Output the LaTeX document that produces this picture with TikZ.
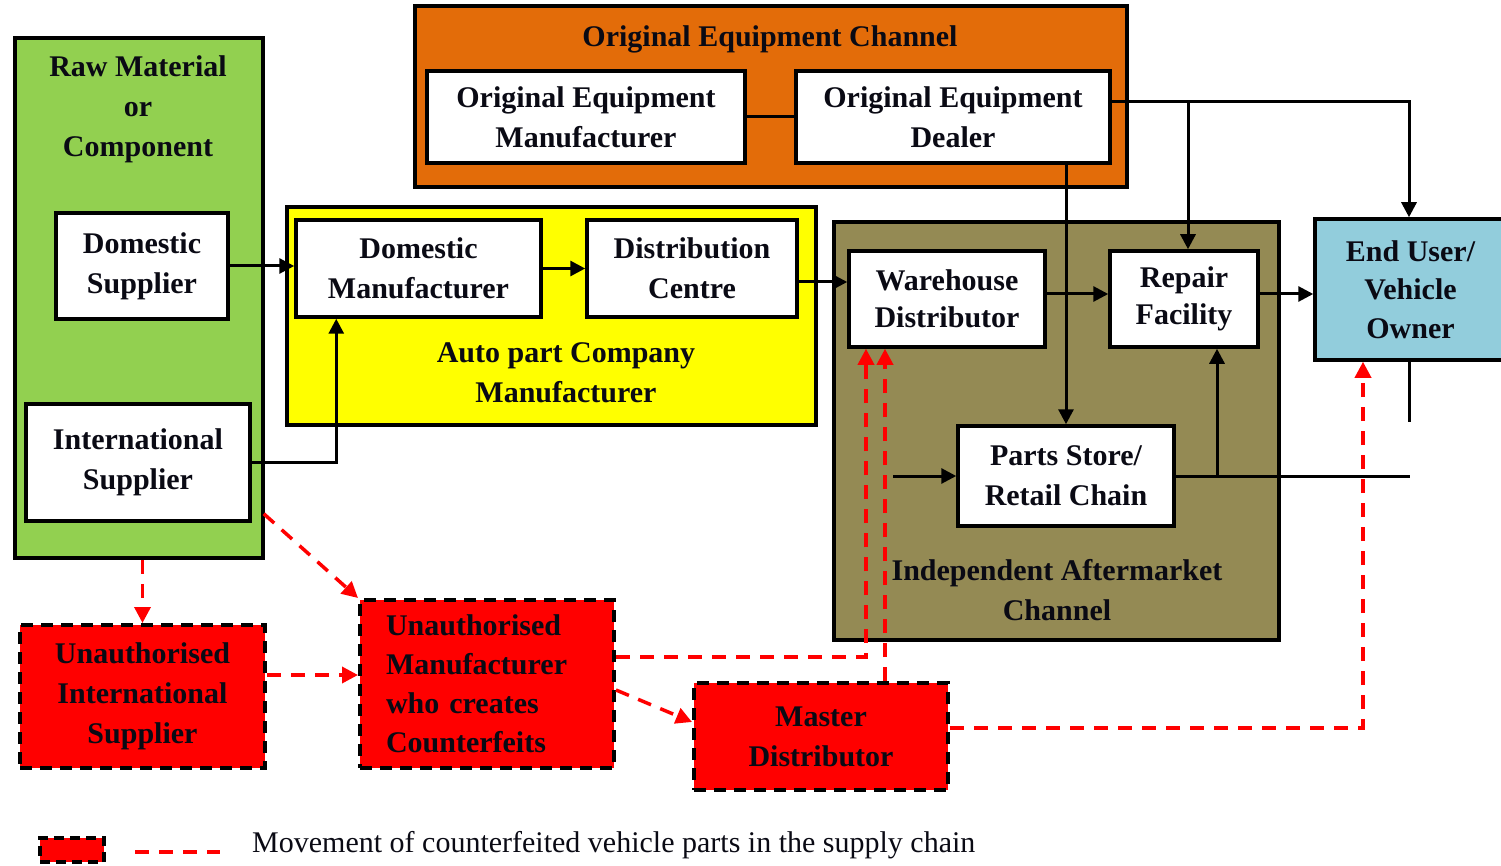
\documentclass[tikz,border=0pt]{standalone}
\usepackage{fontspec}
\setmainfont{Liberation Serif}
\usetikzlibrary{arrows.meta,calc}
\definecolor{cgreen}{RGB}{146,208,80}
\definecolor{corange}{RGB}{227,108,9}
\definecolor{cyellow}{RGB}{255,255,0}
\definecolor{colive}{RGB}{148,138,84}
\definecolor{cblue}{RGB}{146,205,220}
\definecolor{cred}{RGB}{255,0,0}
\definecolor{ctext}{RGB}{10,10,20}
\begin{document}
\begin{tikzpicture}[x=1pt,y=-1pt,
  bigfont/.style={font=\bfseries\fontsize{30}{40}\selectfont, text=ctext},
  contbox/.style={draw=black, line width=3.5pt, rectangle, inner sep=0pt},
  wbox/.style={draw=black, line width=3.5pt, fill=white, rectangle, align=center, bigfont, inner sep=2pt},
  rbox/.style={draw=black, line width=4pt, dash pattern=on 12pt off 8pt, fill=cred, rectangle, align=center, bigfont, inner sep=2pt},
  ttl/.style={align=center, bigfont, inner sep=0pt},
  blk/.style={draw=black, line width=3pt},
  arr/.style={blk, -{Triangle[length=15pt,width=15pt]}},
  rdash/.style={draw=cred, line width=3.5pt, dash pattern=on 14pt off 10pt},
  rdarr/.style={rdash, -{Triangle[length=16pt,width=16pt]}}
]
\useasboundingbox (0,0) rectangle (1501,866);

% Containers
\node[contbox, fill=cgreen, minimum width=248pt, minimum height=520pt] (raw) at (139,298) {};
\node[ttl] (rawt) at (138,109) {Raw Material\\or\\Component};
\node[contbox, fill=corange, minimum width=712pt, minimum height=181pt] (oec) at (771,96.5) {};
\node[ttl] (oect) at (770,39) {Original Equipment Channel};
\node[contbox, fill=cyellow, minimum width=529pt, minimum height=218pt] (apc) at (551.5,316) {};
\node[ttl] (apct) at (566,373) {Auto part Company\\Manufacturer};
\node[contbox, fill=colive, minimum width=445pt, minimum height=418pt] (iac) at (1056.5,431) {};
\node[ttl] (iact) at (1057,590) {Independent Aftermarket\\Channel};

% Boxes
\node[wbox, minimum width=172pt, minimum height=106pt] (ds) at (142,266) {Domestic\\Supplier};
\node[wbox, minimum width=224pt, minimum height=117pt] (is) at (138,462.5) {International\\Supplier};
\node[wbox, minimum width=318pt, minimum height=92pt] (oem) at (586,117) {Original Equipment\\Manufacturer};
\node[wbox, minimum width=314pt, minimum height=92pt] (oed) at (953,117) {Original Equipment\\Dealer};
\node[wbox, minimum width=245pt, minimum height=97pt] (dm) at (418.5,268.5) {Domestic\\Manufacturer};
\node[wbox, minimum width=210pt, minimum height=97pt] (dc) at (692,268.5) {Distribution\\Centre};
\node[wbox, minimum width=196pt, minimum height=96pt, font=\bfseries\fontsize{30}{37}\selectfont] (wd) at (947,299) {Warehouse\\Distributor};
\node[wbox, minimum width=148pt, minimum height=96pt, font=\bfseries\fontsize{30}{37}\selectfont] (rf) at (1184,299) {Repair\\Facility};
\node[wbox, minimum width=216pt, minimum height=100pt] (ps) at (1066,476) {Parts Store/\\Retail Chain};
\node[wbox, fill=cblue, minimum width=191pt, minimum height=141pt, font=\bfseries\fontsize{30}{38.5}\selectfont] (eu) at (1410.5,289.5) {End User/\\Vehicle\\Owner};

% Red boxes
\node[rbox, minimum width=245pt, minimum height=143pt] (uis) at (142.5,696.5) {Unauthorised\\International\\Supplier};
\node[rbox, minimum height=168pt, align=left, text width=202pt, inner xsep=26pt, font=\bfseries\fontsize{30}{39}\selectfont] (um) at (487,684) {Unauthorised\\Manufacturer\\who creates\\Counterfeits};
\node[rbox, minimum width=254pt, minimum height=107pt] (md) at (821,736.5) {Master\\Distributor};

% Line between OEM and OED
\draw[blk] (oem.east) -- (oed.west);

% Black connectors
\draw[arr] (ds.east) -- (ds.east -| dm.west);
\draw[arr] (is.east) -| ([xshift=42pt]dm.south west);
\draw[arr] (dm.east) -- (dc.west);
\draw[arr] ([yshift=-13.5pt]dc.east) -- ([yshift=-13.5pt]dc.east -| wd.west);
\draw[arr] ([yshift=5pt]wd.east) -- ([yshift=5pt]wd.east -| rf.west);
\draw[arr] ([yshift=5pt]rf.east) -- ([yshift=5pt]rf.east -| eu.west);
\draw[arr] ([yshift=15pt]oed.east) -| ([xshift=-1.5pt]eu.north);
\draw[arr] ([yshift=15pt]oed.east) -| ([xshift=4pt]rf.north);
\draw[arr] (oed.south -| ps.north) -- (ps.north);
\coordinate (psin) at (893,476);
\draw[arr] (psin) -- (ps.west);
\coordinate (psout) at (1410,476);
\draw[blk] (ps.east) -- (psout);
\coordinate (rfup) at (1217,476);
\draw[arr] (rfup) -- (rfup |- rf.south);
\coordinate (eudown) at (1409,422);
\draw[blk] (eu.south -| eudown) -- (eudown);

% Red dashed connectors
\draw[rdarr] (raw.south -| uis.north) -- (uis.north);
\draw[rdarr] ([yshift=21.5pt]uis.east) -- ([yshift=21.5pt]uis.east -| um.west);
\draw[rdarr] ([xshift=12pt,yshift=9pt]is.south east) -- (um.north west);
\draw[rdarr] ([yshift=27pt]um.east) -| ([xshift=-81pt]wd.south);
\draw[rdarr] ([yshift=-6pt]um.east) -- ([yshift=14.5pt]md.west);
\draw[rdarr] ([xshift=64pt]md.north) -- ([xshift=64pt]md.north |- wd.south);
\draw[rdarr] ([yshift=8.5pt]md.east) -| ([xshift=-47.5pt]eu.south);

% Legend
\node[rbox, minimum width=64pt, minimum height=24pt, line width=3.5pt, dash pattern=on 10pt off 6pt] (legbox) at (72,850) {};
\coordinate (lega) at (135,852);
\coordinate (legb) at (220,852);
\draw[rdash] (lega) -- (legb);
\node[anchor=west, inner sep=0pt, font=\fontsize{30}{36}\selectfont, text=ctext] (legt) at (252,845) {Movement of counterfeited vehicle parts in the supply chain};
\end{tikzpicture}
\end{document}
